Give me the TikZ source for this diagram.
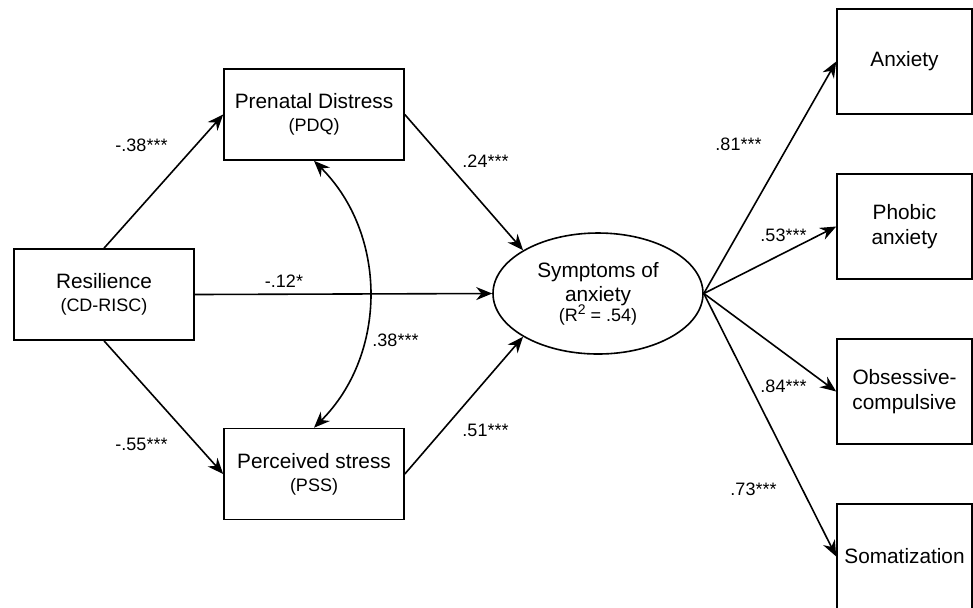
\documentclass[tikz,border=0pt]{standalone}
\usepackage{fontspec}
\setmainfont{Liberation Sans}
\usetikzlibrary{arrows.meta, shapes.geometric}
\newcommand{\subfnt}{\fontsize{9}{11}\selectfont}
\tikzset{%
    box/.style={draw, line width=.8pt, minimum width=90pt, minimum height=45.5pt,
    	align=center, font=\fontsize{10.4}{12.5}\selectfont},
    ind/.style={box, minimum width=67.5pt, minimum height=52.5pt},
    lat/.style={draw, ellipse, line width=.8pt, minimum width=105pt,
    	minimum height=60.5pt, inner sep=0pt, align=center,
    	font=\fontsize{10.4}{12}\selectfont},
    coef/.style={inner sep=0pt, font=\subfnt},
    arr/.style={line width=.8pt, -{Stealth[length=8pt, width=6.5pt]}},
    dbl/.style={line width=.8pt,
    	{Stealth[length=8pt, width=6.5pt]}-{Stealth[length=8pt, width=6.5pt]}}
}

\begin{document}
\begin{tikzpicture}[x=.5pt, y=.5pt]
	\useasboundingbox (0,0) rectangle (973,-607);
	\node [box] (res) at (104,-294.5) {Resilience\\[-1pt]{\subfnt (CD-RISC)}};
	\node [box] (pdq) at (314,-114.5) {Prenatal Distress\\[-1pt]{\subfnt (PDQ)}};
	\node [box] (pss) at (314,-474) {Perceived stress\\[-1pt]{\subfnt (PSS)}};
	\node [lat] (sym) at (598,-293.5) {Symptoms of\\anxiety\\[-2pt]{\subfnt (R\raisebox{.7ex}{\fontsize{7}{8}\selectfont 2} = .54)}};
	\node [ind] (anx) at (904.5,-61.5) {Anxiety};
	\node [ind] (pho) at (904.5,-226.5) {Phobic\\anxiety};
	\node [ind] (obs) at (904.5,-391.5) {Obsessive-\\compulsive};
	\node [ind] (som) at (904.5,-556.5) {Somatization};
	\draw [arr] (res.north) -- (pdq.west);
	\draw [arr] (res.south) -- (pss.west);
	\draw [arr] (res.east) -- (sym.west);
	\draw [arr] (pdq.east) -- (sym.150);
	\draw [arr] (pss.east) -- (sym.210);
	\draw [dbl] (pdq.south) to[bend left=45] (pss.north);
	\draw [arr] (sym.east) -- (anx.west);
	\draw [arr] (sym.east) -- (pho.west);
	\draw [arr] (sym.east) -- (obs.west);
	\draw [arr] (sym.east) -- (som.west);
	\node [coef] (c1) at (141.5,-145.5) {-.38***};
	\node [coef] (c2) at (284,-281) {-.12*};
	\node [coef] (c3) at (141.5,-444) {-.55***};
	\node [coef] (c4) at (485.5,-161) {.24***};
	\node [coef] (c5) at (485.5,-430) {.51***};
	\node [coef] (c6) at (395.5,-340) {.38***};
	\node [coef] (c7) at (738.5,-144) {.81***};
	\node [coef] (c8) at (783.5,-235) {.53***};
	\node [coef] (c9) at (783.5,-386) {.84***};
	\node [coef] (c10) at (753.5,-489) {.73***};
\end{tikzpicture}
\end{document}
